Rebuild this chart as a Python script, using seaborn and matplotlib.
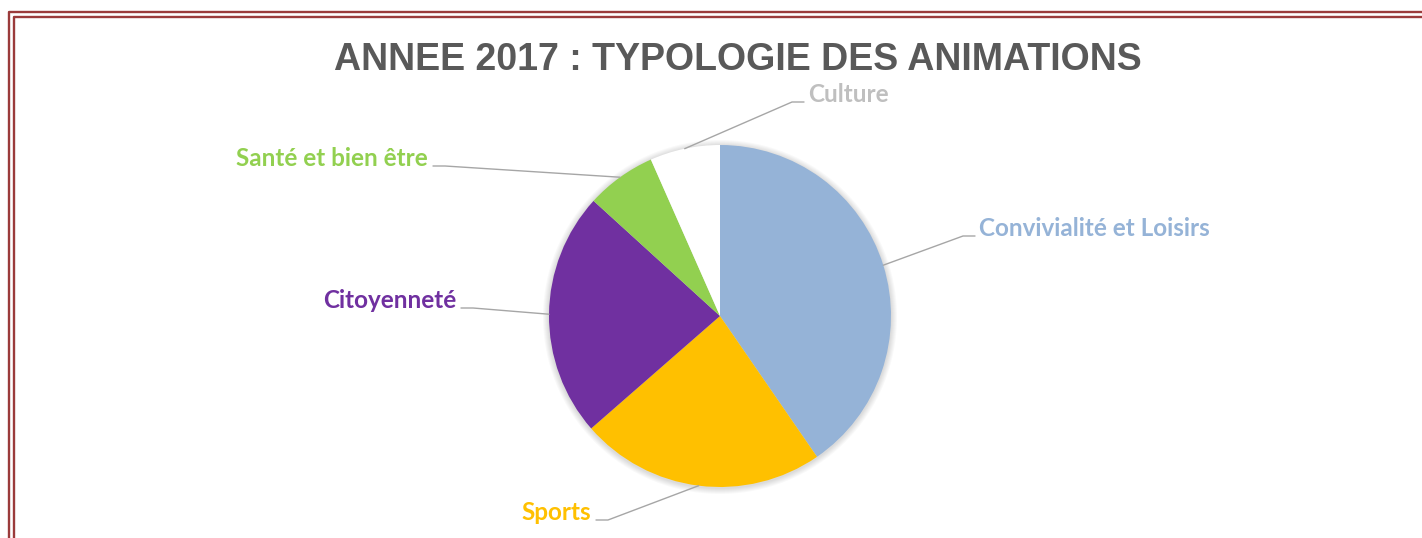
import numpy as np
import matplotlib
matplotlib.use("Agg")
import matplotlib.pyplot as plt
import seaborn as sns
from matplotlib.patches import Circle

# Data (clockwise from the top)
categories = ["Convivialité et Loisirs", "Sports", "Citoyenneté", "Santé et bien être", "Culture"]
values = [61, 35, 35, 10, 10]
colors = ["#95B3D7", "#FFC000", "#7030A0", "#92D050", "#FFFFFF"]
label_colors = ["#95B3D7", "#FFC000", "#7030A0", "#92D050", "#BFBFBF"]
title = "ANNEE 2017 : TYPOLOGIE DES ANIMATIONS"

# Layout (image pixel coordinates)
W, H = 1422, 538
center = (720, 316)
radius = 171
# label anchor (x, baseline y) and side
label_pos = [(979, 236, "left"), (591, 520, "right"), (456, 308, "right"),
             (428, 166, "right"), (808, 102, "left")]

sns.set_theme(style = "white")

fig = plt.figure(figsize = (W / 100, H / 100), dpi = 100)
ax = fig.add_axes([0, 0, 1, 1])

# soft shadow behind the pie
for k in range(1, 7):
    ax.add_patch(Circle((center[0], center[1] + 1), radius + k, color = "#000000",
                        alpha = 0.025, lw = 0, zorder = 0))

wedges, _ = ax.pie(values, colors = sns.color_palette(colors), startangle = 270,
                   counterclock = True, center = center, radius = radius,
                   wedgeprops = dict(linewidth = 0, zorder = 1))

# Labels with leader lines from the middle of each wedge
for w, name, col, (lx, ly, side) in zip(wedges, categories, label_colors, label_pos):
    mid = np.deg2rad((w.theta1 + w.theta2) / 2)
    px = center[0] + radius * np.cos(mid)
    py = center[1] + radius * np.sin(mid)
    if side == "left":
        x_end, x_elbow = lx - 4, lx - 16
    else:
        x_end, x_elbow = lx + 5, lx + 17
    ax.plot([px, x_elbow, x_end], [py, ly, ly], color = "#A6A6A6", lw = 1.0, zorder = 2)
    ax.text(lx, ly, name, ha = side, va = "baseline", color = col, fontsize = 17.5,
            fontweight = "bold", family = ["Lato", "DejaVu Sans"])

# Title
ax.text(738, 70, title, ha = "center", va = "baseline", color = "#595959", fontsize = 27,
        fontweight = "bold", family = ["Liberation Sans", "DejaVu Sans"])

# Double frame
frame_col = "#9B3B3B"
ax.plot([8.5, 8.5, W + 5], [H + 5, 12, 12], color = frame_col, lw = 1.7, solid_joinstyle = "round")
ax.plot([13.5, 13.5, W + 5], [H + 5, 17, 17], color = frame_col, lw = 1.7)

ax.set_xlim(0, W)
ax.set_ylim(H, 0)
ax.set_aspect("equal")
ax.axis("off")

fig.savefig("out.png", dpi = 100)
plt.close()
